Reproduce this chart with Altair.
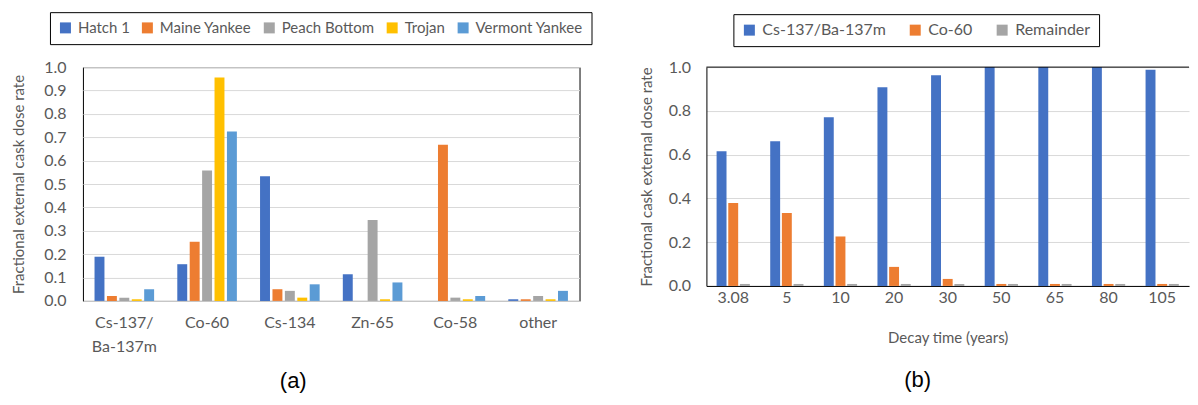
import altair as alt
import pandas as pd

# ---------------- data: panel (a) ----------------
nuclides = ["Cs-137/Ba-137m", "Co-60", "Cs-134", "Zn-65", "Co-58", "other"]
plants = ["Hatch 1", "Maine Yankee", "Peach Bottom", "Trojan", "Vermont Yankee"]
plant_colors = ["#4472C4", "#ED7D31", "#A5A5A5", "#FFC000", "#5B9BD5"]
hatch_1 = [0.189, 0.157, 0.533, 0.114, 0.0, 0.007]
maine_yankee = [0.021, 0.253, 0.050, 0.0, 0.668, 0.007]
peach_bottom = [0.014, 0.558, 0.043, 0.346, 0.014, 0.021]
trojan = [0.007, 0.956, 0.014, 0.007, 0.007, 0.007]
vermont_yankee = [0.050, 0.725, 0.071, 0.079, 0.021, 0.043]
y_ticks_a = [0.0, 0.1, 0.2, 0.3, 0.4, 0.5, 0.6, 0.7, 0.8, 0.9, 1.0]

# ---------------- data: panel (b) ----------------
decay_times = ["3.08", "5", "10", "20", "30", "50", "65", "80", "105"]
components = ["Cs-137/Ba-137m", "Co-60", "Remainder"]
comp_colors = ["#4472C4", "#ED7D31", "#A5A5A5"]
cs137_ba137m = [0.615, 0.661, 0.771, 0.908, 0.963, 1.0, 1.0, 1.0, 0.988]
co60 = [0.379, 0.333, 0.226, 0.087, 0.032, 0.009, 0.009, 0.009, 0.009]
remainder = [0.009, 0.009, 0.009, 0.009, 0.009, 0.009, 0.009, 0.009, 0.009]
y_ticks_b = [0.0, 0.2, 0.4, 0.6, 0.8, 1.0]

rows_a = []
for plant, vals in zip(plants, [hatch_1, maine_yankee, peach_bottom, trojan, vermont_yankee]):
    for nuc, v in zip(nuclides, vals):
        rows_a.append({"nuclide": nuc, "plant": plant, "value": v})
df_a = pd.DataFrame(rows_a)

rows_b = []
for comp, vals in zip(components, [cs137_ba137m, co60, remainder]):
    for t, v in zip(decay_times, vals):
        rows_b.append({"time": t, "component": comp, "value": v})
df_b = pd.DataFrame(rows_b)

TXT = "#595959"
GRID = "#D9D9D9"
FONT = "Lato"
W_B = 483

legend_common = dict(
    orient="none", direction="horizontal", title=None,
    symbolType="square", symbolSize=121, symbolStrokeWidth=0,
    labelFont=FONT, labelColor=TXT, labelOffset=5,
    strokeColor="black", fillColor="white", padding=8,
)

# ---------------- panel (a) ----------------
left = alt.Chart(df_a).mark_bar().encode(
    x=alt.X("nuclide:N", sort=nuclides, title=None,
            scale=alt.Scale(paddingInner=0.28, paddingOuter=0.14),
            axis=alt.Axis(labelAngle=0, labelPadding=14, labelLineHeight=24,
                          ticks=False, tickSize=0, domain=False,
                          labelFontSize=16, labelColor=TXT, labelFont=FONT,
                          labelExpr="datum.value == 'Cs-137/Ba-137m' ? ['Cs-137/', 'Ba-137m'] : datum.label")),
    xOffset=alt.XOffset("plant:N", sort=plants, scale=alt.Scale(paddingInner=0.2)),
    y=alt.Y("value:Q", scale=alt.Scale(domain=[0, 1], nice=False),
            title="Fractional external cask dose rate",
            axis=alt.Axis(values=y_ticks_a, format=".1f", grid=True, gridColor=GRID,
                          ticks=False, tickSize=0, domain=False,
                          labelPadding=17, labelFontSize=16, labelColor=TXT, labelFont=FONT,
                          titlePadding=17, titleFontSize=15, titleColor=TXT,
                          titleFont=FONT, titleFontWeight="normal")),
    color=alt.Color("plant:N", sort=plants,
                    scale=alt.Scale(domain=plants, range=plant_colors),
                    legend=alt.Legend(legendX=-33, legendY=-55, columnPadding=10,
                                      labelFontSize=15, **legend_common)),
).properties(
    width=497, height=234,
    view=alt.ViewBackground(stroke="black", strokeWidth=1),
    title=alt.TitleParams("(a)", orient="bottom", anchor="middle", frame="group",
                          dx=-38, offset=16, font="Liberation Sans", fontSize=22,
                          fontWeight="normal", color="black"),
)

# ---------------- panel (b) ----------------
bars_b = alt.Chart(df_b).mark_bar().encode(
    x=alt.X("time:N", sort=decay_times, title="Decay time (years)",
            scale=alt.Scale(paddingInner=0.38, paddingOuter=0.19),
            axis=alt.Axis(labelAngle=0, labelPadding=4, ticks=False, tickSize=0,
                          domain=True, domainColor="black", domainWidth=1,
                          labelFontSize=16, labelColor=TXT, labelFont=FONT,
                          titlePadding=25, titleFontSize=15, titleColor=TXT,
                          titleFont=FONT, titleFontWeight="normal")),
    xOffset=alt.XOffset("component:N", sort=components, scale=alt.Scale(paddingInner=0.15)),
    y=alt.Y("value:Q", scale=alt.Scale(domain=[0, 1], nice=False),
            title="Fractional cask external dose rate",
            axis=alt.Axis(values=y_ticks_b, format=".1f", grid=True, gridColor=GRID,
                          ticks=False, tickSize=0, domain=True, domainColor="black",
                          domainWidth=1,
                          labelPadding=16, labelFontSize=16, labelColor=TXT, labelFont=FONT,
                          titlePadding=14, titleFontSize=15, titleColor=TXT,
                          titleFont=FONT, titleFontWeight="normal")),
    color=alt.Color("component:N", sort=components,
                    scale=alt.Scale(domain=components, range=comp_colors),
                    legend=alt.Legend(legendX=27, legendY=-53, columnPadding=21,
                                      labelFontSize=16, **legend_common)),
)

top_border = alt.Chart(alt.Data(values=[{}])).mark_rule(color="black", strokeWidth=1).encode(
    x=alt.value(0), x2=alt.value(W_B), y=alt.value(0)
)

right = alt.layer(bars_b, top_border).properties(
    width=W_B, height=219,
    view=alt.ViewBackground(stroke=None),
    title=alt.TitleParams("(b)", orient="bottom", anchor="middle", frame="group",
                          dx=-30, offset=24, font="Liberation Sans", fontSize=22,
                          fontWeight="normal", color="black"),
)

chart = alt.hconcat(left, right, spacing=127, bounds="flush").resolve_scale(
    color="independent", xOffset="independent"
).resolve_legend(color="independent").properties(
    padding={"left": 3, "top": 3, "right": 0, "bottom": 0}
).configure(font=FONT).configure_view(stroke=None)

chart.save("out.html", embed_options={"renderer": "svg", "actions": False})
